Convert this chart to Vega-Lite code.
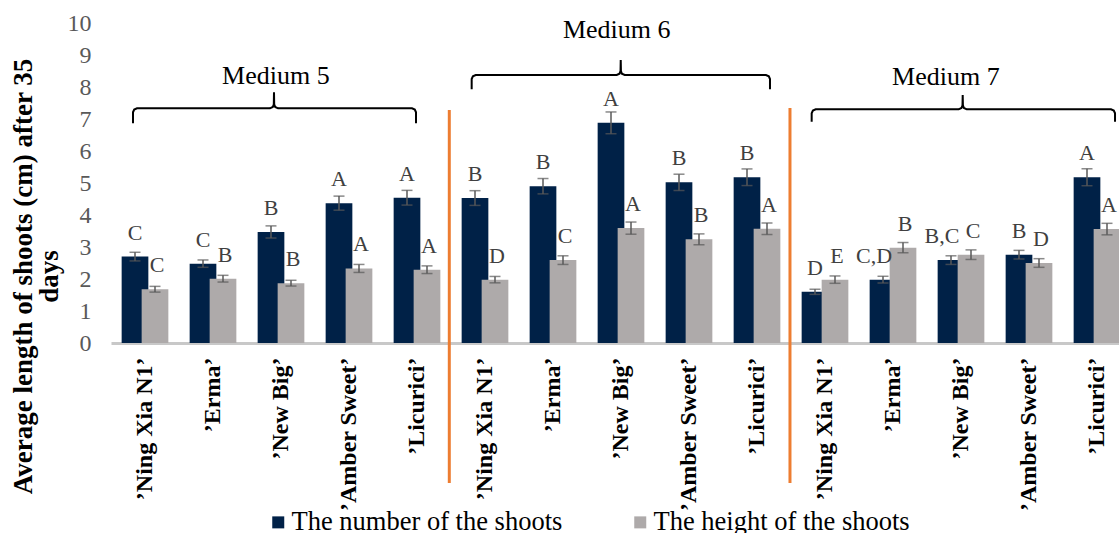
{
  "$schema": "https://vega.github.io/schema/vega-lite/v6.json",
  "width": 1008,
  "height": 320,
  "autosize": {"type": "none"},
  "padding": {"left": 111, "top": 23, "right": 0, "bottom": 190},
  "background": "white",
  "config": {"view": {"stroke": null}, "font": "Liberation Serif"},
  "datasets": {
    "bars": [
      {"id": "5|’Ning Xia N1’", "series": "The number of the shoots", "value": 2.70, "lo": 2.565, "hi": 2.835, "let": "C"},
      {"id": "5|’Ning Xia N1’", "series": "The height of the shoots", "value": 1.68, "lo": 1.59, "hi": 1.77, "let": "C"},
      {"id": "5|’Erma’", "series": "The number of the shoots", "value": 2.48, "lo": 2.365, "hi": 2.595, "let": "C"},
      {"id": "5|’Erma’", "series": "The height of the shoots", "value": 2.01, "lo": 1.905, "hi": 2.115, "let": "B"},
      {"id": "5|’New Big’", "series": "The number of the shoots", "value": 3.47, "lo": 3.28, "hi": 3.66, "let": "B"},
      {"id": "5|’New Big’", "series": "The height of the shoots", "value": 1.87, "lo": 1.78, "hi": 1.96, "let": "B"},
      {"id": "5|’Amber Sweet’", "series": "The number of the shoots", "value": 4.37, "lo": 4.15, "hi": 4.59, "let": "A"},
      {"id": "5|’Amber Sweet’", "series": "The height of the shoots", "value": 2.33, "lo": 2.205, "hi": 2.455, "let": "A"},
      {"id": "5|’Licurici’", "series": "The number of the shoots", "value": 4.54, "lo": 4.31, "hi": 4.77, "let": "A"},
      {"id": "5|’Licurici’", "series": "The height of the shoots", "value": 2.29, "lo": 2.17, "hi": 2.41, "let": "A"},
      {"id": "6|’Ning Xia N1’", "series": "The number of the shoots", "value": 4.53, "lo": 4.30, "hi": 4.76, "let": "B"},
      {"id": "6|’Ning Xia N1’", "series": "The height of the shoots", "value": 1.98, "lo": 1.88, "hi": 2.08, "let": "D"},
      {"id": "6|’Erma’", "series": "The number of the shoots", "value": 4.90, "lo": 4.66, "hi": 5.14, "let": "B"},
      {"id": "6|’Erma’", "series": "The height of the shoots", "value": 2.59, "lo": 2.455, "hi": 2.725, "let": "C"},
      {"id": "6|’New Big’", "series": "The number of the shoots", "value": 6.88, "lo": 6.54, "hi": 7.22, "let": "A"},
      {"id": "6|’New Big’", "series": "The height of the shoots", "value": 3.59, "lo": 3.40, "hi": 3.78, "let": "A"},
      {"id": "6|’Amber Sweet’", "series": "The number of the shoots", "value": 5.02, "lo": 4.765, "hi": 5.275, "let": "B"},
      {"id": "6|’Amber Sweet’", "series": "The height of the shoots", "value": 3.24, "lo": 3.07, "hi": 3.41, "let": "B"},
      {"id": "6|’Licurici’", "series": "The number of the shoots", "value": 5.18, "lo": 4.92, "hi": 5.44, "let": "B"},
      {"id": "6|’Licurici’", "series": "The height of the shoots", "value": 3.57, "lo": 3.39, "hi": 3.75, "let": "A"},
      {"id": "7|’Ning Xia N1’", "series": "The number of the shoots", "value": 1.60, "lo": 1.52, "hi": 1.68, "let": "D"},
      {"id": "7|’Ning Xia N1’", "series": "The height of the shoots", "value": 1.98, "lo": 1.865, "hi": 2.095, "let": "E"},
      {"id": "7|’Erma’", "series": "The number of the shoots", "value": 1.98, "lo": 1.875, "hi": 2.085, "let": "C,D"},
      {"id": "7|’Erma’", "series": "The height of the shoots", "value": 2.98, "lo": 2.82, "hi": 3.14, "let": "B"},
      {"id": "7|’New Big’", "series": "The number of the shoots", "value": 2.59, "lo": 2.455, "hi": 2.725, "let": "B,C"},
      {"id": "7|’New Big’", "series": "The height of the shoots", "value": 2.76, "lo": 2.61, "hi": 2.91, "let": "C"},
      {"id": "7|’Amber Sweet’", "series": "The number of the shoots", "value": 2.76, "lo": 2.625, "hi": 2.895, "let": "B"},
      {"id": "7|’Amber Sweet’", "series": "The height of the shoots", "value": 2.50, "lo": 2.365, "hi": 2.635, "let": "D"},
      {"id": "7|’Licurici’", "series": "The number of the shoots", "value": 5.18, "lo": 4.915, "hi": 5.445, "let": "A"},
      {"id": "7|’Licurici’", "series": "The height of the shoots", "value": 3.56, "lo": 3.38, "hi": 3.74, "let": "A"}
    ],
    "brace": [
      {"b": 5, "o": 1, "u": 0.3235, "v": 6.866},
      {"b": 5, "o": 2, "u": 0.3235, "v": 7.209},
      {"b": 5, "o": 3, "u": 0.3412, "v": 7.294},
      {"b": 5, "o": 4, "u": 0.3824, "v": 7.334},
      {"b": 5, "o": 5, "u": 2.3382, "v": 7.334},
      {"b": 5, "o": 6, "u": 2.3794, "v": 7.375},
      {"b": 5, "o": 7, "u": 2.3941, "v": 7.459},
      {"b": 5, "o": 8, "u": 2.3971, "v": 7.834},
      {"b": 5, "o": 9, "u": 2.4, "v": 7.459},
      {"b": 5, "o": 10, "u": 2.4147, "v": 7.375},
      {"b": 5, "o": 11, "u": 2.4559, "v": 7.334},
      {"b": 5, "o": 12, "u": 4.4265, "v": 7.334},
      {"b": 5, "o": 13, "u": 4.4676, "v": 7.294},
      {"b": 5, "o": 14, "u": 4.4853, "v": 7.209},
      {"b": 5, "o": 15, "u": 4.4853, "v": 6.866},
      {"b": 6, "o": 1, "u": 5.304, "v": 7.928},
      {"b": 6, "o": 2, "u": 5.304, "v": 8.25},
      {"b": 6, "o": 3, "u": 5.322, "v": 8.334},
      {"b": 6, "o": 4, "u": 5.363, "v": 8.375},
      {"b": 6, "o": 5, "u": 7.437, "v": 8.375},
      {"b": 6, "o": 6, "u": 7.478, "v": 8.416},
      {"b": 6, "o": 7, "u": 7.493, "v": 8.5},
      {"b": 6, "o": 8, "u": 7.496, "v": 8.844},
      {"b": 6, "o": 9, "u": 7.499, "v": 8.5},
      {"b": 6, "o": 10, "u": 7.513, "v": 8.416},
      {"b": 6, "o": 11, "u": 7.554, "v": 8.375},
      {"b": 6, "o": 12, "u": 9.632, "v": 8.375},
      {"b": 6, "o": 13, "u": 9.674, "v": 8.334},
      {"b": 6, "o": 14, "u": 9.691, "v": 8.25},
      {"b": 6, "o": 15, "u": 9.691, "v": 7.928},
      {"b": 7, "o": 1, "u": 10.304, "v": 6.916},
      {"b": 7, "o": 2, "u": 10.304, "v": 7.178},
      {"b": 7, "o": 3, "u": 10.322, "v": 7.2625},
      {"b": 7, "o": 4, "u": 10.363, "v": 7.303},
      {"b": 7, "o": 5, "u": 12.466, "v": 7.303},
      {"b": 7, "o": 6, "u": 12.507, "v": 7.344},
      {"b": 7, "o": 7, "u": 12.522, "v": 7.428},
      {"b": 7, "o": 8, "u": 12.525, "v": 7.75},
      {"b": 7, "o": 9, "u": 12.528, "v": 7.428},
      {"b": 7, "o": 10, "u": 12.543, "v": 7.344},
      {"b": 7, "o": 11, "u": 12.584, "v": 7.303},
      {"b": 7, "o": 12, "u": 14.706, "v": 7.303},
      {"b": 7, "o": 13, "u": 14.747, "v": 7.2625},
      {"b": 7, "o": 14, "u": 14.765, "v": 7.178},
      {"b": 7, "o": 15, "u": 14.765, "v": 6.916}
    ],
    "sep": [
      {"u": 4.975, "v1": 7.28, "v2": -4.375},
      {"u": 9.985, "v1": 7.34, "v2": -4.375}
    ],
    "med": [
      {"label": "Medium 5", "u": 2.424, "v": 8.094},
      {"label": "Medium 6", "u": 7.437, "v": 9.52},
      {"label": "Medium 7", "u": 12.277, "v": 8.0625}
    ]
  },
  "layer": [
    {
      "data": {"name": "bars"},
      "encoding": {
        "x": {
          "field": "id",
          "type": "nominal",
          "sort": null,
          "scale": {
            "domain": ["5|’Ning Xia N1’", "5|’Erma’", "5|’New Big’", "5|’Amber Sweet’", "5|’Licurici’",
                       "6|’Ning Xia N1’", "6|’Erma’", "6|’New Big’", "6|’Amber Sweet’", "6|’Licurici’",
                       "7|’Ning Xia N1’", "7|’Erma’", "7|’New Big’", "7|’Amber Sweet’", "7|’Licurici’"],
            "range": [0, 1020],
            "paddingInner": 0,
            "paddingOuter": 0
          },
          "axis": {
            "title": null,
            "labelExpr": "split(datum.value, '|')[1]",
            "labelAngle": 270,
            "labelAlign": "right",
            "labelBaseline": "middle",
            "labelFont": "Liberation Serif",
            "labelFontWeight": "bold",
            "labelFontSize": 24,
            "labelColor": "black",
            "labelPadding": 14,
            "labelLimit": 0,
            "labelOverlap": false,
            "ticks": false,
            "tickSize": 0,
            "domainColor": "#c8c8c8",
            "domainWidth": 3
          }
        },
        "y": {
          "field": "value",
          "type": "quantitative",
          "scale": {"domain": [0, 10], "nice": false},
          "axis": {
            "title": ["Average length of shoots (cm) after 35", "days"],
            "titleFont": "Liberation Serif",
            "titleFontSize": 27,
            "titleFontWeight": "bold",
            "titleColor": "black",
            "titleAngle": 270,
            "titleAlign": "center",
            "titleBaseline": "middle",
            "titleLineHeight": 26,
            "titleX": -88,
            "titleY": 253,
            "values": [0, 1, 2, 3, 4, 5, 6, 7, 8, 9, 10],
            "domain": false,
            "ticks": false,
            "tickSize": 0,
            "grid": false,
            "labelFont": "Liberation Serif",
            "labelFontSize": 24,
            "labelColor": "#595959",
            "labelPadding": 20
          }
        }
      },
      "layer": [
        {
          "transform": [{"filter": "datum.series == 'The number of the shoots'"}],
          "mark": {"type": "bar", "width": 26.7, "xOffset": -10},
          "encoding": {
            "color": {
              "field": "series",
              "type": "nominal",
              "scale": {"domain": ["The number of the shoots", "The height of the shoots"], "range": ["#002147", "#aeaaaa"]},
              "legend": {
                "title": null,
                "orient": "none",
                "legendX": 154,
                "legendY": 486,
                "direction": "horizontal",
                "symbolType": "square",
                "symbolSize": 144,
                "symbolStrokeWidth": 0,
                "labelFont": "Liberation Serif",
                "labelFontSize": 26.5,
                "labelColor": "black",
                "labelLimit": 0,
                "labelOffset": 0,
                "columnPadding": 64,
                "padding": 0
              }
            }
          }
        },
        {
          "transform": [{"filter": "datum.series == 'The height of the shoots'"}],
          "mark": {"type": "bar", "width": 26.7, "xOffset": 10},
          "encoding": {"color": {"field": "series", "type": "nominal"}}
        },
        {
          "transform": [{"filter": "datum.series == 'The number of the shoots'"}],
          "mark": {"type": "rule", "xOffset": -10, "color": "#595959", "strokeWidth": 1.5},
          "encoding": {"y": {"field": "lo", "type": "quantitative", "scale": {"domain": [0, 10], "nice": false}}, "y2": {"field": "hi"}}
        },
        {
          "transform": [{"filter": "datum.series == 'The height of the shoots'"}],
          "mark": {"type": "rule", "xOffset": 10, "color": "#595959", "strokeWidth": 1.5},
          "encoding": {"y": {"field": "lo", "type": "quantitative", "scale": {"domain": [0, 10], "nice": false}}, "y2": {"field": "hi"}}
        },
        {
          "transform": [{"filter": "datum.series == 'The number of the shoots'"}],
          "mark": {"type": "tick", "orient": "horizontal", "xOffset": -10, "color": "#595959", "thickness": 1.5, "size": 11},
          "encoding": {"y": {"field": "lo", "type": "quantitative", "scale": {"domain": [0, 10], "nice": false}}}
        },
        {
          "transform": [{"filter": "datum.series == 'The number of the shoots'"}],
          "mark": {"type": "tick", "orient": "horizontal", "xOffset": -10, "color": "#595959", "thickness": 1.5, "size": 11},
          "encoding": {"y": {"field": "hi", "type": "quantitative", "scale": {"domain": [0, 10], "nice": false}}}
        },
        {
          "transform": [{"filter": "datum.series == 'The height of the shoots'"}],
          "mark": {"type": "tick", "orient": "horizontal", "xOffset": 10, "color": "#595959", "thickness": 1.5, "size": 11},
          "encoding": {"y": {"field": "lo", "type": "quantitative", "scale": {"domain": [0, 10], "nice": false}}}
        },
        {
          "transform": [{"filter": "datum.series == 'The height of the shoots'"}],
          "mark": {"type": "tick", "orient": "horizontal", "xOffset": 10, "color": "#595959", "thickness": 1.5, "size": 11},
          "encoding": {"y": {"field": "hi", "type": "quantitative", "scale": {"domain": [0, 10], "nice": false}}}
        },
        {
          "transform": [{"filter": "datum.series == 'The number of the shoots' && length(datum.let) == 1"}],
          "mark": {"type": "text", "dx": -10, "dy": -17, "baseline": "alphabetic", "align": "center", "fontSize": 22, "font": "Liberation Serif", "color": "#404040"},
          "encoding": {"text": {"field": "let"}}
        },
        {
          "transform": [{"filter": "datum.series == 'The number of the shoots' && length(datum.let) > 1"}],
          "mark": {"type": "text", "dx": -19, "dy": -17, "baseline": "alphabetic", "align": "center", "fontSize": 22, "font": "Liberation Serif", "color": "#404040"},
          "encoding": {"text": {"field": "let"}}
        },
        {
          "transform": [{"filter": "datum.series == 'The height of the shoots'"}],
          "mark": {"type": "text", "dx": 12, "dy": -17, "baseline": "alphabetic", "align": "center", "fontSize": 22, "font": "Liberation Serif", "color": "#404040"},
          "encoding": {"text": {"field": "let"}}
        }
      ]
    },
    {
      "layer": [
        {
          "data": {"name": "brace"},
          "mark": {"type": "line", "color": "black", "strokeWidth": 2},
          "encoding": {
            "x": {"field": "u", "type": "quantitative", "scale": {"domain": [0, 15], "range": [0, 1020], "nice": false, "zero": false}, "axis": null},
            "y": {"field": "v", "type": "quantitative", "scale": {"domain": [0, 10], "nice": false}, "axis": null},
            "detail": {"field": "b", "type": "nominal"},
            "order": {"field": "o", "type": "quantitative"}
          }
        },
        {
          "data": {"name": "sep"},
          "mark": {"type": "rule", "color": "#ed7d31", "strokeWidth": 3},
          "encoding": {
            "x": {"field": "u", "type": "quantitative", "scale": {"domain": [0, 15], "range": [0, 1020], "nice": false, "zero": false}, "axis": null},
            "y": {"field": "v1", "type": "quantitative", "scale": {"domain": [0, 10], "nice": false}, "axis": null},
            "y2": {"field": "v2"}
          }
        },
        {
          "data": {"name": "med"},
          "mark": {"type": "text", "fontSize": 26, "font": "Liberation Serif", "color": "black", "align": "center", "baseline": "alphabetic"},
          "encoding": {
            "x": {"field": "u", "type": "quantitative", "scale": {"domain": [0, 15], "range": [0, 1020], "nice": false, "zero": false}, "axis": null},
            "y": {"field": "v", "type": "quantitative", "scale": {"domain": [0, 10], "nice": false}, "axis": null},
            "text": {"field": "label"}
          }
        }
      ]
    }
  ],
  "resolve": {"scale": {"x": "independent"}, "axis": {"y": "independent"}}
}
